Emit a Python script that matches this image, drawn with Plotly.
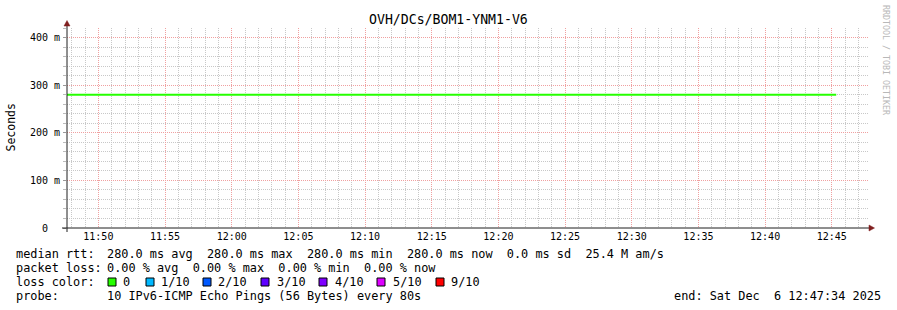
import plotly.graph_objects as go

# ---- data ----
title_text = "OVH/DCs/BOM1-YNM1-V6"
times = ["2025-12-06 11:47:39", "2025-12-06 12:45:20"]
median_rtt = [0.280, 0.280]
y_tickvals = [0, 0.1, 0.2, 0.3, 0.4]
y_ticktext = ["0\u00a0\u00a0", "100 m", "200 m", "300 m", "400 m"]
x_range = ["2025-12-06 11:47:39", "2025-12-06 12:47:43"]
y_range = [0, 0.42]

legend_keys = ["median rtt:", "packet loss:", "loss color:", "probe:"]
legend_values = [
    "280.0 ms avg  280.0 ms max  280.0 ms min  280.0 ms now  0.0 ms sd  25.4 M am/s",
    "0.00 % avg  0.00 % max  0.00 % min  0.00 % now",
    "",
    "10 IPv6-ICMP Echo Pings (56 Bytes) every 80s",
]
loss_labels = ["0", "1/10", "2/10", "3/10", "4/10", "5/10", "9/10"]
loss_colors = ["#26ff00", "#00b8ff", "#0059ff", "#5e00ff", "#7e00ff", "#dd00ff", "#ff0000"]
end_text = "end: Sat Dec  6 12:47:34 2025"
watermark = "RRDTOOL / TOBI OETIKER"

# ---- layout geometry (pixels) ----
W, H = 897, 310
L, R, T, B = 67, 29, 28, 82
PW = W - L - R
PH = H - T - B
MONO = "DejaVu Sans Mono"
LEG_SIZE = 11.86


def xp(px):
    return (px - L) / PW


def yp(py):
    return (H - B - py) / PH


def nb(s):
    return s.replace(" ", "\u00a0")


fig = go.Figure()
fig.add_trace(go.Scatter(
    x=times, y=median_rtt, mode="lines",
    line=dict(color="#26ff00", width=2), hoverinfo="skip", showlegend=False,
))

annotations = []
shapes = []


def text(t, x, y, size, xanchor="left", family=MONO, color="#000", angle=0):
    annotations.append(dict(text=nb(t), x=xp(x), y=yp(y), xref="paper", yref="paper",
                            xanchor=xanchor, yanchor="middle", showarrow=False,
                            borderpad=0, borderwidth=0, textangle=angle,
                            font=dict(family=family, size=size, color=color)))


# title
text(title_text, 448, 19, 13.2, xanchor="center")
# y axis title
text("Seconds", 10.5, 127, 11.5, xanchor="center", angle=-90)
# watermark
text(watermark, 886, 60, 8.3, xanchor="center", color="#b8b8b8", angle=90)

# legend lines
line_y = [254, 268, 282, 296]
for key, val, ly in zip(legend_keys, legend_values, line_y):
    text(key, 16, ly, LEG_SIZE)
    if val:
        text(val, 107.3, ly, LEG_SIZE)
text(end_text, 881, 296, LEG_SIZE, xanchor="right")

sq_x = [108, 146, 203, 261, 319, 377, 436]
lab_x = [123, 160.7, 218.3, 276.7, 334.7, 392.7, 450.7]
for lbl, col, sx, lx in zip(loss_labels, loss_colors, sq_x, lab_x):
    shapes.append(dict(type="rect", xref="paper", yref="paper",
                       x0=xp(sx), x1=xp(sx + 8), y0=yp(278), y1=yp(286),
                       fillcolor=col, line=dict(color="#000", width=1)))
    text(lbl, lx, 282, LEG_SIZE)

# axes lines and arrows
shapes.append(dict(type="line", xref="paper", yref="paper",
                   x0=xp(67), x1=xp(67), y0=yp(232), y1=yp(24),
                   line=dict(color="#1f1f1f", width=1)))
shapes.append(dict(type="line", xref="paper", yref="paper",
                   x0=xp(62), x1=xp(869), y0=yp(228), y1=yp(228),
                   line=dict(color="#1f1f1f", width=1)))
shapes.append(dict(type="path", xref="paper", yref="paper",
                   path=f"M {xp(64)},{yp(26)} L {xp(70)},{yp(26)} L {xp(67)},{yp(20.5)} Z",
                   fillcolor="#801f1f", line=dict(color="#801f1f", width=0.5)))
shapes.append(dict(type="path", xref="paper", yref="paper",
                   path=f"M {xp(869)},{yp(225)} L {xp(869)},{yp(231)} L {xp(874.5)},{yp(228)} Z",
                   fillcolor="#801f1f", line=dict(color="#801f1f", width=0.5)))

fig.update_layout(
    width=W, height=H,
    margin=dict(l=L, r=R, t=T, b=B, pad=0),
    paper_bgcolor="#ffffff", plot_bgcolor="#ffffff",
    showlegend=False,
    annotations=annotations, shapes=shapes,
    xaxis=dict(
        type="date", range=x_range, tickformat="%H:%M",
        tick0="2025-12-06 11:50:00", dtick=300000,
        showgrid=True, gridcolor="#f0a0a0", griddash="1px,1px", gridwidth=1,
        minor=dict(dtick=60000, tick0="2025-12-06 11:50:00", showgrid=True,
                   gridcolor="#c8c8c8", griddash="1px,1px", gridwidth=1),
        showline=False, zeroline=False, ticks="", ticklabelstandoff=1,
        tickfont=dict(family=MONO, size=10, color="#000"),
        fixedrange=True,
    ),
    yaxis=dict(
        range=y_range, tickvals=y_tickvals, ticktext=y_ticktext,
        showgrid=True, gridcolor="#f0a0a0", griddash="1px,1px", gridwidth=1,
        minor=dict(dtick=0.02, tick0=0, showgrid=True, gridcolor="#c8c8c8",
                   griddash="1px,1px", gridwidth=1,
                   ticks="outside", ticklen=3, tickcolor="#bbbbbb"),
        ticks="outside", ticklen=3, tickcolor="#999999",
        showline=False, zeroline=False, ticklabelstandoff=1,
        tickfont=dict(family=MONO, size=10, color="#000"),
        fixedrange=True,
    ),
)

fig.write_html("out.html")
